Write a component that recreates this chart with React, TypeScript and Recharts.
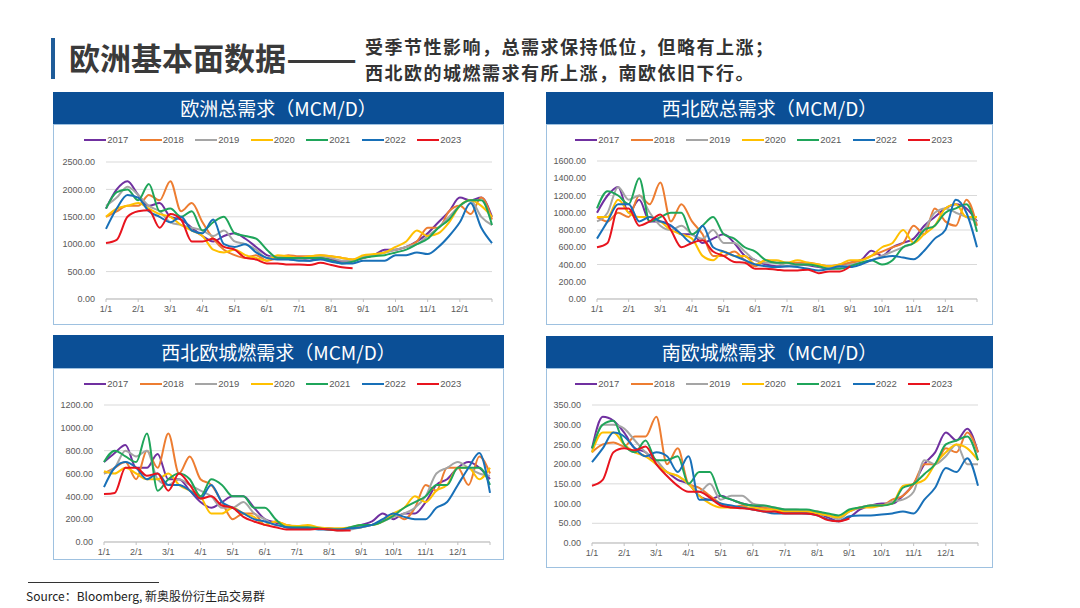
import React from "react";
import { LineChart, Line, XAxis, YAxis, CartesianGrid, Legend } from "recharts";

// series names and colours (Excel-like palette)
const YEARS = ["2017", "2018", "2019", "2020", "2021", "2022", "2023"];
const COLORS: Record<string, string> = {
  "2017": "#7030a0",
  "2018": "#ed7d31",
  "2019": "#a5a5a5",
  "2020": "#ffc000",
  "2021": "#1fa55a",
  "2022": "#1870b8",
  "2023": "#e8141e",
};

// sample dates: 1st, 11th, 21st of each month + year end
const MONTHS = [1, 2, 3, 4, 5, 6, 7, 8, 9, 10, 11, 12];
const DATES = MONTHS.flatMap((m) => [`${m}/1`, `${m}/11`, `${m}/21`]).concat("12/31");

// 欧洲总需求
const EU_2017 = [1650, 2000, 2150, 1900, 1700, 1750, 1500, 1450, 1300, 1150, 1050, 1150, 1200, 1100, 950, 800, 750, 730, 720, 700, 750, 720, 680, 700, 750, 800, 900, 900, 950, 1050, 1200, 1400, 1600, 1850, 1800, 1850, 1500];
const EU_2018 = [1500, 1600, 1700, 1700, 1900, 1800, 2150, 1600, 1750, 1400, 1100, 900, 800, 750, 800, 700, 750, 800, 780, 780, 800, 780, 750, 720, 750, 800, 850, 900, 950, 1050, 1300, 1300, 1600, 1700, 1550, 1850, 1450];
const EU_2019 = [1700, 1850, 2050, 1900, 1700, 1600, 1400, 1350, 1300, 1250, 1150, 1250, 1050, 1000, 900, 750, 780, 750, 720, 760, 780, 750, 700, 700, 780, 800, 850, 900, 950, 1000, 1150, 1300, 1500, 1700, 1800, 1500, 1350];
const EU_2020 = [1500, 1650, 1700, 1750, 1650, 1550, 1500, 1350, 1250, 1150, 900, 850, 900, 800, 750, 700, 800, 780, 750, 780, 800, 780, 750, 720, 800, 820, 850, 950, 1050, 1250, 1150, 1200, 1400, 1700, 1800, 1700, 1500];
const EU_2021 = [1650, 1950, 2000, 1800, 2100, 1600, 1650, 1500, 1600, 1250, 1400, 1500, 1200, 1150, 1100, 900, 750, 750, 750, 750, 750, 700, 650, 680, 750, 780, 800, 850, 900, 1000, 1100, 1300, 1450, 1700, 1800, 1800, 1350];
const EU_2022 = [1280, 1650, 1900, 1850, 1600, 1500, 1400, 1500, 1250, 1200, 1450, 1000, 950, 1000, 850, 750, 720, 720, 700, 700, 720, 680, 650, 650, 700, 700, 700, 800, 800, 850, 820, 950, 1150, 1400, 1750, 1300, 1020];
const EU_2023 = [1020, 1080, 1500, 1600, 1620, 1300, 1550, 1450, 1050, 1050, 1100, 950, 900, 750, 720, 650, 650, 630, 630, 620, 660, 620, 580, 560];

// 西北欧总需求
const NWE_2017 = [1000, 1200, 1300, 1000, 1150, 900, 900, 850, 750, 750, 650, 700, 750, 650, 500, 450, 400, 380, 380, 400, 390, 370, 350, 370, 420, 450, 560, 500, 600, 650, 700, 850, 950, 1050, 1100, 1050, 900];
const NWE_2018 = [950, 900, 1000, 950, 1200, 1100, 1350, 900, 1100, 900, 750, 500, 500, 550, 450, 380, 450, 420, 420, 420, 420, 400, 380, 400, 420, 450, 500, 550, 600, 650, 850, 750, 1050, 900, 850, 1150, 850];
const NWE_2019 = [900, 1000, 1300, 1150, 1200, 1000, 850, 800, 850, 750, 700, 800, 650, 650, 550, 450, 420, 420, 380, 400, 400, 380, 350, 370, 400, 420, 450, 500, 550, 600, 650, 800, 1000, 1050, 1000, 950, 900];
const NWE_2020 = [950, 950, 1150, 1000, 950, 950, 900, 800, 750, 700, 500, 450, 550, 500, 500, 400, 450, 450, 420, 450, 420, 400, 380, 400, 450, 450, 500, 600, 650, 800, 650, 750, 850, 1050, 1100, 950, 950];
const NWE_2021 = [1050, 1250, 1200, 1100, 1400, 900, 950, 1000, 1000, 750, 850, 950, 750, 700, 600, 550, 450, 420, 420, 400, 400, 380, 350, 350, 380, 420, 450, 400, 450, 600, 650, 800, 850, 1000, 1050, 1100, 780];
const NWE_2022 = [700, 900, 1100, 1100, 900, 950, 900, 850, 750, 650, 850, 600, 550, 500, 450, 400, 380, 370, 380, 370, 350, 330, 350, 380, 370, 400, 450, 480, 500, 480, 460, 560, 700, 800, 1150, 1000, 600];
const NWE_2023 = [600, 650, 1050, 1050, 850, 900, 980, 800, 600, 650, 680, 550, 500, 430, 420, 350, 350, 340, 330, 330, 340, 300, 320, 320, 380];

// 西北欧城燃需求
const NWR_2017 = [700, 780, 850, 650, 650, 770, 550, 550, 450, 350, 300, 350, 400, 400, 300, 200, 170, 130, 120, 120, 120, 120, 110, 120, 150, 180, 250, 200, 250, 250, 350, 500, 550, 650, 700, 650, 550];
const NWR_2018 = [600, 650, 700, 550, 800, 650, 950, 600, 750, 550, 500, 350, 200, 250, 250, 150, 180, 150, 130, 130, 120, 110, 110, 120, 130, 150, 180, 250, 200, 300, 500, 450, 650, 650, 500, 750, 600];
const NWR_2019 = [600, 650, 800, 750, 800, 550, 500, 550, 500, 450, 400, 300, 300, 350, 250, 200, 150, 150, 130, 120, 120, 110, 100, 110, 130, 150, 180, 220, 250, 300, 400, 600, 650, 700, 650, 600, 580];
const NWR_2020 = [620, 600, 650, 600, 550, 550, 600, 500, 450, 400, 250, 250, 300, 250, 220, 150, 180, 150, 140, 150, 130, 120, 120, 130, 150, 150, 180, 250, 300, 400, 350, 450, 500, 650, 650, 550, 650];
const NWR_2021 = [700, 800, 750, 700, 950, 450, 550, 600, 550, 400, 550, 500, 400, 400, 300, 300, 200, 130, 130, 130, 120, 110, 110, 130, 150, 150, 180, 230, 300, 350, 400, 500, 500, 650, 650, 650, 500];
const NWR_2022 = [480, 650, 700, 650, 550, 600, 500, 500, 450, 380, 500, 350, 300, 250, 200, 180, 150, 130, 120, 120, 110, 110, 110, 120, 130, 150, 200, 250, 220, 200, 200, 300, 350, 500, 650, 780, 430];
const NWR_2023 = [420, 430, 650, 650, 580, 600, 450, 600, 500, 380, 400, 320, 300, 220, 180, 150, 130, 110, 110, 110, 115, 110, 100, 100];

// 南欧城燃需求
const SE_2017 = [240, 320, 310, 280, 240, 230, 200, 180, 160, 150, 120, 110, 120, 110, 100, 95, 90, 85, 80, 78, 75, 75, 65, 55, 65, 85, 95, 100, 100, 120, 150, 200, 230, 280, 260, 290, 230];
const SE_2018 = [230, 250, 255, 245, 270, 270, 320, 200, 240, 150, 140, 120, 100, 90, 95, 85, 90, 85, 80, 80, 80, 80, 70, 65, 80, 90, 95, 95, 110, 120, 150, 200, 200, 240, 230, 280, 230];
const SE_2019 = [230, 300, 300, 290, 260, 230, 210, 180, 170, 150, 130, 150, 110, 120, 120, 100, 95, 90, 85, 85, 80, 75, 70, 60, 80, 90, 95, 95, 105, 110, 130, 210, 200, 220, 250, 200, 200];
const SE_2020 = [230, 280, 280, 250, 230, 220, 200, 180, 170, 150, 120, 100, 90, 90, 90, 90, 85, 85, 80, 80, 80, 75, 70, 65, 80, 90, 90, 95, 100, 145, 150, 160, 200, 230, 250, 240, 210];
const SE_2021 = [240, 300, 310, 250, 230, 260, 210, 210, 220, 150, 180, 180, 120, 110, 100, 95, 95, 90, 85, 85, 85, 80, 75, 70, 85, 90, 95, 95, 100, 140, 150, 175, 200, 250, 260, 270, 210];
const SE_2022 = [205, 240, 280, 270, 240, 220, 230, 220, 180, 220, 110, 110, 100, 95, 90, 85, 80, 75, 75, 75, 75, 70, 60, 55, 68, 70, 70, 72, 75, 80, 75, 110, 140, 190, 180, 215, 145];
const SE_2023 = [145, 160, 230, 240, 235, 245, 200, 170, 145, 130, 130, 115, 95, 90, 88, 85, 80, 80, 75, 75, 75, 70, 58, 55, 62];

const EU_TICKS = [0, 500, 1000, 1500, 2000, 2500];
const NWE_TICKS = [0, 200, 400, 600, 800, 1000, 1200, 1400, 1600];
const NWR_TICKS = [0, 200, 400, 600, 800, 1000, 1200];
const SE_TICKS = [0, 50, 100, 150, 200, 250, 300, 350];

const FONT = '"Noto Sans CJK SC", "Noto Sans", sans-serif';
const TICK_FONT = '"Liberation Sans", Arial, sans-serif';

function buildRows(series: number[][]) {
  return DATES.map((d, i) => {
    const row: Record<string, string | number | null> = { d };
    YEARS.forEach((y, k) => {
      row[y] = series[k][i] ?? null;
    });
    return row;
  });
}

const renderLegend = (props: any) => (
  <div style={{ display: "flex", justifyContent: "center" }}>
    {(props.payload || []).map((entry: any) => (
      <div
        key={entry.value}
        style={{ display: "flex", alignItems: "center", width: 55.5 }}
      >
        <svg width={22} height={4}>
          <line x1={0} y1={2} x2={22} y2={2} stroke={entry.color} strokeWidth={2} />
        </svg>
        <span
          style={{
            fontFamily: TICK_FONT,
            fontSize: 9.5,
            color: "#595959",
            marginLeft: 1,
            lineHeight: "12px",
          }}
        >
          {entry.value}
        </span>
      </div>
    ))}
  </div>
);

interface PanelProps {
  title: string;
  left: number;
  top: number;
  width: number;
  headerHeight: number;
  height: number;
  margin: { top: number; right: number; bottom: number; left: number };
  ticks: number[];
  series: number[][];
}

function Panel({ title, left, top, width, headerHeight, height, margin, ticks, series }: PanelProps) {
  const rows = buildRows(series);
  const chartTop = top + headerHeight;
  return (
    <>
      <div
        style={{
          position: "absolute",
          left,
          top,
          width,
          height: headerHeight,
          background: "#0b4f96",
          color: "#fff",
          fontFamily: FONT,
          fontSize: 19,
          lineHeight: `${headerHeight}px`,
          textAlign: "center",
        }}
      >
        {title}
      </div>
      <div
        style={{
          position: "absolute",
          left,
          top: chartTop,
          width,
          height,
          boxSizing: "border-box",
          border: "1px solid #9ec1e0",
        }}
      >
        <div style={{ position: "absolute", left: -1, top: -1 }}>
          <LineChart
            width={width}
            height={height}
            data={rows}
            margin={{ top: margin.top, right: margin.right, bottom: 0, left: 0 }}
          >
            <CartesianGrid vertical={false} stroke="#d9d9d9" />
            <XAxis
              dataKey="d"
              height={margin.bottom}
              interval={2}
              tickFormatter={(v: string) => (v.endsWith("/1") ? v : "")}
              stroke="#bfbfbf"
              tickSize={3}
              tickMargin={4}
              tick={{ fill: "#595959", fontSize: 9, fontFamily: TICK_FONT }}
            />
            <YAxis
              width={margin.left}
              domain={[ticks[0], ticks[ticks.length - 1]]}
              ticks={ticks}
              tickFormatter={(v: number) => v.toFixed(2)}
              axisLine={false}
              tickLine={false}
              tickSize={0}
              tickMargin={11}
              tick={{ fill: "#595959", fontSize: 9, fontFamily: TICK_FONT }}
            />
            <Legend
              verticalAlign="middle"
              align="center"
              layout="horizontal"
              content={renderLegend}
              wrapperStyle={{ top: 10, left: 0, width: "100%" }}
            />
            {YEARS.map((y) => (
              <Line
                key={y}
                type="monotone"
                dataKey={y}
                name={y}
                stroke={COLORS[y]}
                strokeWidth={2}
                dot={false}
                activeDot={false}
                isAnimationActive={false}
              />
            ))}
          </LineChart>
        </div>
      </div>
    </>
  );
}

export default function App() {
  return (
    <div
      style={{
        position: "absolute",
        left: 0,
        top: 0,
        width: 1080,
        height: 608,
        background: "#fff",
        overflow: "hidden",
        fontFamily: FONT,
      }}
    >
      <div style={{ position: "absolute", left: 51, top: 38, width: 4, height: 41, background: "#1f5c99" }} />
      <div
        style={{
          position: "absolute",
          left: 69,
          top: 36,
          fontSize: 31,
          fontWeight: 700,
          color: "#3a3a3a",
          lineHeight: "42px",
          whiteSpace: "nowrap",
        }}
      >
        欧洲基本面数据
        <span style={{ display: "inline-block", transform: "scaleX(1.35)", transformOrigin: "left center" }}>
          ——
        </span>
      </div>
      <div
        style={{
          position: "absolute",
          left: 365,
          top: 33,
          fontSize: 18,
          fontWeight: 700,
          color: "#333",
          lineHeight: "26px",
          letterSpacing: 1.5,
          whiteSpace: "nowrap",
        }}
      >
        <div>受季节性影响，总需求保持低位，但略有上涨；</div>
        <div>西北欧的城燃需求有所上涨，南欧依旧下行。</div>
      </div>

      <Panel
        title="欧洲总需求（MCM/D）"
        left={53}
        top={92}
        width={451}
        headerHeight={32}
        height={201}
        margin={{ top: 38, right: 12, bottom: 26, left: 53 }}
        ticks={EU_TICKS}
        series={[EU_2017, EU_2018, EU_2019, EU_2020, EU_2021, EU_2022, EU_2023]}
      />
      <Panel
        title="西北欧总需求（MCM/D）"
        left={546}
        top={92}
        width={447}
        headerHeight={32}
        height={201}
        margin={{ top: 37, right: 16, bottom: 26, left: 51 }}
        ticks={NWE_TICKS}
        series={[NWE_2017, NWE_2018, NWE_2019, NWE_2020, NWE_2021, NWE_2022, NWE_2023]}
      />
      <Panel
        title="西北欧城燃需求（MCM/D）"
        left={53}
        top={335}
        width={451}
        headerHeight={33}
        height={192}
        margin={{ top: 37, right: 14, bottom: 18, left: 51 }}
        ticks={NWR_TICKS}
        series={[NWR_2017, NWR_2018, NWR_2019, NWR_2020, NWR_2021, NWR_2022, NWR_2023]}
      />
      <Panel
        title="南欧城燃需求（MCM/D）"
        left={546}
        top={336}
        width={447}
        headerHeight={32}
        height={200}
        margin={{ top: 37, right: 15, bottom: 25, left: 46 }}
        ticks={SE_TICKS}
        series={[SE_2017, SE_2018, SE_2019, SE_2020, SE_2021, SE_2022, SE_2023]}
      />

      <div style={{ position: "absolute", left: 28, top: 582, width: 131, height: 1, background: "#333" }} />
      <div
        style={{
          position: "absolute",
          left: 26,
          top: 588,
          fontSize: 12,
          color: "#222",
          lineHeight: "16px",
          whiteSpace: "nowrap",
        }}
      >
        Source：Bloomberg, 新奥股份衍生品交易群
      </div>
    </div>
  );
}
